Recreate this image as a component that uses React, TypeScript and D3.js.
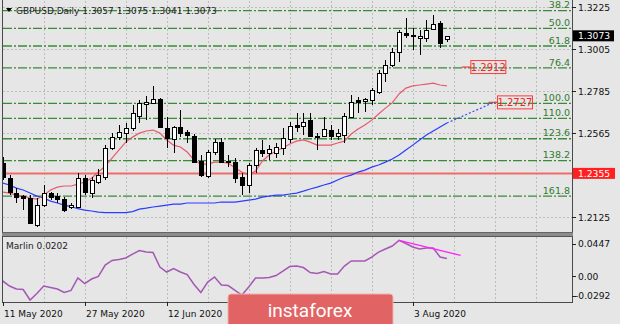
import React from "react";
import * as d3 from "d3";

// ---------- DATA ----------
const opens = [1.2409,1.2330,1.2252,1.2236,1.2226,1.2084,1.2189,1.2252,1.2236,1.2220,
  1.2179,1.2179,1.2330,1.2252,1.2310,1.2336,1.2488,1.2545,1.2566,1.2592,
  1.2655,1.2718,1.2724,1.2744,1.2592,1.2535,1.2598,1.2571,1.2550,1.2420,
  1.2341,1.2467,1.2519,1.2414,1.2414,1.2336,1.2294,1.2399,1.2477,1.2461,
  1.2461,1.2488,1.2535,1.2608,1.2603,1.2634,1.2545,1.2550,1.2582,1.2550,
  1.2556,1.2650,1.2739,1.2734,1.2739,1.2781,1.2881,1.2923,1.2991,1.3090,
  1.3080,1.3064,1.3064,1.3111,1.3143,1.3057];
const highs = [1.2440,1.2346,1.2278,1.2241,1.2241,1.2226,1.2294,1.2257,1.2252,1.2231,
  1.2199,1.2357,1.2346,1.2336,1.2378,1.2503,1.2566,1.2608,1.2619,1.2713,
  1.2739,1.2760,1.2813,1.2750,1.2650,1.2603,1.2687,1.2582,1.2561,1.2451,
  1.2477,1.2535,1.2540,1.2451,1.2435,1.2357,1.2409,1.2488,1.2530,1.2503,
  1.2514,1.2592,1.2624,1.2671,1.2671,1.2671,1.2566,1.2650,1.2608,1.2587,
  1.2671,1.2765,1.2755,1.2750,1.2802,1.2896,1.2949,1.3012,1.3106,1.3169,
  1.3116,1.3106,1.3158,1.3185,1.3153,1.3075];
const lows = [1.2320,1.2241,1.2199,1.2163,1.2089,1.2074,1.2179,1.2215,1.2199,1.2152,
  1.2168,1.2173,1.2241,1.2226,1.2299,1.2320,1.2477,1.2530,1.2514,1.2577,
  1.2619,1.2634,1.2718,1.2592,1.2488,1.2461,1.2545,1.2514,1.2409,1.2336,
  1.2330,1.2451,1.2409,1.2388,1.2304,1.2241,1.2252,1.2357,1.2440,1.2425,
  1.2435,1.2451,1.2514,1.2571,1.2556,1.2545,1.2477,1.2545,1.2530,1.2530,
  1.2514,1.2645,1.2671,1.2676,1.2713,1.2771,1.2834,1.2912,1.2938,1.3064,
  1.3001,1.2975,1.3043,1.3106,1.3012,1.3041];
const closes = [1.2336,1.2257,1.2231,1.2226,1.2095,1.2189,1.2252,1.2231,1.2220,1.2163,
  1.2189,1.2330,1.2257,1.2320,1.2346,1.2488,1.2545,1.2571,1.2592,1.2671,
  1.2724,1.2729,1.2744,1.2598,1.2540,1.2598,1.2566,1.2556,1.2414,1.2346,
  1.2467,1.2519,1.2414,1.2420,1.2330,1.2294,1.2399,1.2477,1.2461,1.2482,
  1.2493,1.2540,1.2603,1.2598,1.2624,1.2550,1.2550,1.2587,1.2550,1.2566,
  1.2655,1.2729,1.2729,1.2744,1.2792,1.2881,1.2923,1.2991,1.3096,1.3080,
  1.3075,1.3075,1.3106,1.3137,1.3038,1.3073];

const maFast = [1.2257,1.2252,1.2241,1.2236,1.2226,1.2220,1.2241,1.2268,1.2283,1.2289,
  1.2289,1.2299,1.2310,1.2330,1.2362,1.2393,1.2435,1.2477,1.2519,1.2545,
  1.2566,1.2577,1.2582,1.2566,1.2530,1.2503,1.2493,1.2467,1.2425,1.2404,
  1.2404,1.2414,1.2414,1.2409,1.2383,1.2362,1.2346,1.2367,1.2420,1.2451,
  1.2472,1.2488,1.2509,1.2524,1.2530,1.2519,1.2503,1.2503,1.2503,1.2514,
  1.2524,1.2561,1.2587,1.2608,1.2634,1.2666,1.2697,1.2724,1.2771,1.2802,
  1.2813,1.2818,1.2823,1.2828,1.2818,1.2813];
const maSlow = [1.2304,1.2294,1.2278,1.2268,1.2252,1.2236,1.2226,1.2210,1.2200,1.2189,
  1.2181,1.2170,1.2163,1.2158,1.2152,1.2150,1.2150,1.2150,1.2150,1.2155,
  1.2168,1.2173,1.2179,1.2184,1.2189,1.2194,1.2194,1.2200,1.2200,1.2200,
  1.2200,1.2200,1.2205,1.2205,1.2205,1.2210,1.2215,1.2220,1.2231,1.2236,
  1.2241,1.2241,1.2247,1.2252,1.2262,1.2273,1.2283,1.2294,1.2304,1.2320,
  1.2336,1.2346,1.2362,1.2372,1.2388,1.2399,1.2414,1.2430,1.2451,1.2477,
  1.2503,1.2530,1.2556,1.2577,1.2598,1.2619];
const maSlowProjection = [1.2619,1.2634,1.2650,1.2666,1.2682,1.2697,1.2713,1.2729];

const marlin = [-0.0053,-0.0110,-0.0144,-0.0150,-0.0269,-0.0195,-0.0110,-0.0127,-0.0144,-0.0184,
  -0.0161,-0.0019,-0.0082,-0.0031,-0.0002,0.0128,0.0180,0.0191,0.0208,0.0253,
  0.0293,0.0276,0.0270,0.0106,0.0049,0.0089,0.0049,0.0020,-0.0093,-0.0184,
  -0.0065,-0.0008,-0.0099,-0.0105,-0.0161,-0.0213,-0.0122,-0.0019,-0.0019,-0.0014,
  0.0009,0.0060,0.0111,0.0117,0.0100,0.0043,0.0032,0.0055,0.0026,0.0026,
  0.0117,0.0174,0.0174,0.0174,0.0219,0.0276,0.0310,0.0344,0.0409,0.0373,
  0.0333,0.0310,0.0322,0.0322,0.0219,0.0202];
const marlinTrendBars = [58, 67];
const marlinTrendValues = [0.0409, 0.0239];

const fibLevels = [38.2, 50.0, 61.8, 76.4, 100.0, 110.0, 123.6, 138.2, 161.8];
const fibStart = 1.3508;
const fibEnd = 1.2722;

const priceTicks = [1.3225, 1.3005, 1.2785, 1.2565, 1.2125];
const marlinTicks = [0.0447, 0.0, -0.0292];
const marlinTickLabels = ["0.0447", "0.00", "-0.0292"];

const dateTickBars = [0, 12, 24, 60];
const dateTickLabels = ["11 May 2020", "27 May 2020", "12 Jun 2020", "3 Aug 2020"];

const supportLevel = 1.2355;
const currentPrice = 1.3073;
const markerPrices = [1.2912, 1.2727];
const markerBars = [68.5, 72.4];

const titleText = "GBPUSD,Daily  1.3057 1.3075 1.3041 1.3073";
const marlinTitle = "Marlin 0.0202";

// ---------- CHART ----------
const FONT = "'DejaVu Sans', Verdana, sans-serif";
const BG = "#e6e6e6";
const FIB_COLOR = "#3a8a3a";

export default function App() {
  const left = 3, right = 572, top = 1, mainBottom = 232;
  const subTop = 237, subBottom = 302;
  const x = d3.scaleLinear().domain([0, 65]).range([2.7, 446.9]);
  const y = d3.scaleLinear().domain([1.2048, 1.3258]).range([mainBottom, top]);
  const ym = d3.scaleLinear().domain([-0.0292, 0.0447]).range([subBottom, subTop]);

  const lineMain = d3.line<number>().x((_, i) => x(i)).y((d) => y(d));
  const projLine = d3.line<number>().x((_, i) => x(65 + i)).y((d) => y(d));
  const lineSub = d3.line<number>().x((_, i) => x(i)).y((d) => ym(d));

  const gridBars = d3.range(6, 80, 6).filter((i) => x(i) < right);
  const fibPrice = (l: number) => fibStart - (l / 100) * (fibStart - fibEnd);

  return (
    <svg width={620} height={324} style={{ position: "absolute", left: 0, top: 0 }} fontFamily={FONT}>
      <defs>
        <clipPath id="mainClip"><rect x={left} y={top} width={right - left} height={mainBottom - top} /></clipPath>
        <clipPath id="subClip"><rect x={left} y={subTop} width={right - left} height={subBottom - subTop} /></clipPath>
      </defs>
      <rect x={0} y={0} width={620} height={324} fill={BG} />

      {/* grid */}
      <g stroke="#bdbdbd" strokeWidth={1} strokeDasharray="2,2" shapeRendering="crispEdges">
        {gridBars.map((i) => (
          <g key={i}>
            <line x1={Math.round(x(i)) + 0.5} x2={Math.round(x(i)) + 0.5} y1={top} y2={mainBottom} />
            <line x1={Math.round(x(i)) + 0.5} x2={Math.round(x(i)) + 0.5} y1={subTop} y2={subBottom} />
          </g>
        ))}
        {priceTicks.map((p) => (
          <line key={p} x1={left} x2={right} y1={Math.round(y(p)) + 0.5} y2={Math.round(y(p)) + 0.5} />
        ))}
      </g>

      <g clipPath="url(#mainClip)">
        {/* fib lines */}
        {fibLevels.map((l) => {
          const yy = y(fibPrice(l));
          return (
            <g key={l}>
              <line x1={left} x2={right} y1={yy} y2={yy} stroke={FIB_COLOR} strokeWidth={1.3} strokeDasharray="9,2,2,2" />
              <text x={570} y={yy - 2.3} textAnchor="end" fontSize={9.5} fill="#2f7a2f">{l.toFixed(1)}</text>
            </g>
          );
        })}
        {/* support line */}
        <line x1={left} x2={right} y1={y(supportLevel)} y2={y(supportLevel)} stroke="#f06c6c" strokeWidth={2} />

        {/* marker labels */}
        {markerPrices.map((p, k) => {
          const bx = x(markerBars[k]);
          const yy = y(p);
          return (
            <g key={p}>
              <line x1={bx - 9} x2={bx} y1={yy} y2={yy} stroke="#f04848" strokeWidth={1.3} />
              <rect x={bx} y={yy - 6.5} width={35} height={13} fill="none" stroke="#ff3a3a" strokeWidth={1} />
              <text x={bx + 17.5} y={yy + 3.6} textAnchor="middle" fontSize={10} fill="#f02828">{p.toFixed(4)}</text>
            </g>
          );
        })}

        {/* moving averages */}
        <path d={lineMain(maSlow) || ""} fill="none" stroke="#2a3cff" strokeWidth={1.2} />
        <path d={projLine(maSlowProjection) || ""} fill="none" stroke="#3a4cff" strokeWidth={1.2} strokeDasharray="2,2" />
        <path d={lineMain(maFast) || ""} fill="none" stroke="#e65a6e" strokeWidth={1.2} />

        {/* candles */}
        {opens.map((o, i) => {
          const c = closes[i];
          const cx = Math.round(x(i));
          const yTop = Math.round(y(Math.max(o, c)));
          const yBot = Math.round(y(Math.min(o, c)));
          const up = c >= o;
          return (
            <g key={i} shapeRendering="crispEdges">
              <line x1={cx + 0.5} x2={cx + 0.5} y1={y(highs[i])} y2={y(lows[i])} stroke="#000" strokeWidth={1} />
              <rect x={cx - 1.5} y={yTop + 0.5} width={4} height={Math.max(yBot - yTop, 1)}
                fill={up ? "#fff" : "#000"} stroke="#000" strokeWidth={1} />
            </g>
          );
        })}
      </g>

      {/* title */}
      <path d="M6,8 L12,8 L9,12 Z" fill="#000" />
      <text x={16} y={14} fontSize={9} fill="#222">{titleText}</text>

      {/* frames */}
      <g stroke="#4a4a4a" strokeWidth={1} shapeRendering="crispEdges" fill="none">
        <line x1={left - 0.5} x2={left - 0.5} y1={0} y2={subBottom + 0.5} />
        <line x1={right + 0.5} x2={right + 0.5} y1={0} y2={subBottom + 0.5} />
        <line x1={left - 0.5} x2={right + 0.5} y1={subBottom + 0.5} y2={subBottom + 0.5} />
      </g>
      <rect x={left - 1} y={mainBottom + 1} width={right - left + 2} height={3} fill="#8c8c8c" />
      <line x1={left - 1} x2={right + 1} y1={mainBottom + 4.5} y2={mainBottom + 4.5} stroke="#555" strokeWidth={1} />
      <line x1={left - 1} x2={right + 1} y1={mainBottom + 0.5} y2={mainBottom + 0.5} stroke="#666" strokeWidth={1} />

      {/* right price axis */}
      <g fontSize={9.2} fill="#111">
        {priceTicks.map((p) => (
          <g key={p}>
            <line x1={right} x2={right + 4} y1={Math.round(y(p)) + 0.5} y2={Math.round(y(p)) + 0.5} stroke="#222" />
            <text x={578} y={y(p) + 3.3}>{p.toFixed(4)}</text>
          </g>
        ))}
      </g>
      <rect x={573} y={y(supportLevel) - 5.5} width={42} height={11} fill="#ff2020" />
      <text x={578} y={y(supportLevel) + 3.3} fontSize={9.2} fill="#fff">{supportLevel.toFixed(4)}</text>
      <rect x={573} y={y(currentPrice) - 6} width={41} height={11} fill="#000" />
      <text x={578} y={y(currentPrice) + 3} fontSize={9.2} fill="#fff">{currentPrice.toFixed(4)}</text>

      {/* indicator panel */}
      <g clipPath="url(#subClip)">
        <path d={lineSub(marlin) || ""} fill="none" stroke="#a458b4" strokeWidth={1.5} />
        <line x1={x(marlinTrendBars[0])} y1={ym(marlinTrendValues[0])} x2={x(marlinTrendBars[1])} y2={ym(marlinTrendValues[1])}
          stroke="#ff20ff" strokeWidth={1.3} />
      </g>
      <text x={6} y={249} fontSize={9} fill="#222">{marlinTitle}</text>
      <g fontSize={9.2} fill="#111">
        {marlinTicks.map((v, k) => {
          const yy = k === 0 ? ym(v) + 6.5 : k === 2 ? ym(v) - 6 : ym(v);
          return (
            <g key={k}>
              <line x1={right} x2={right + 4} y1={Math.round(yy) + 0.5} y2={Math.round(yy) + 0.5} stroke="#222" />
              <text x={k === 2 ? 575 : 578} y={yy + 3.3}>{marlinTickLabels[k]}</text>
            </g>
          );
        })}
      </g>

      {/* date axis */}
      <g fontSize={9} fill="#111">
        {dateTickBars.map((b, k) => (
          <g key={b}>
            <line x1={Math.round(x(b)) + 0.5} x2={Math.round(x(b)) + 0.5} y1={subBottom} y2={subBottom + 4} stroke="#222" />
            <text x={Math.round(x(b)) + 1} y={317}>{dateTickLabels[k]}</text>
          </g>
        ))}
      </g>

      {/* watermark */}
      <rect x={228} y={294} width={165} height={34} rx={3} fill="#e26363" stroke="#f2b0b0" strokeWidth={1} />
      <text x={310} y={317} textAnchor="middle" fontSize={19} fill="#fff" fontFamily="Roboto, 'Open Sans', sans-serif">instaforex</text>
    </svg>
  );
}
